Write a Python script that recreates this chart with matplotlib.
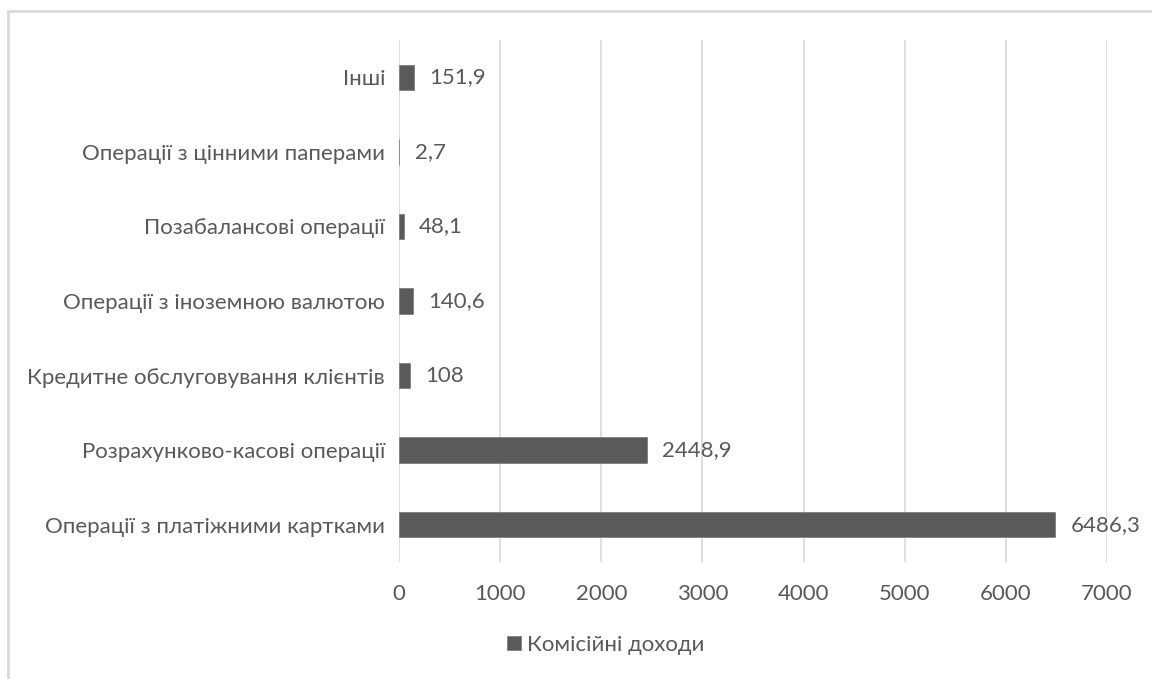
import matplotlib.pyplot as plt
from matplotlib.patches import Rectangle

plt.rcParams['font.family'] = ['Lato', 'DejaVu Sans']

# commission income by category (bottom to top)
categories = ["Операції з платіжними картками",
              "Розрахунково-касові операції",
              "Кредитне обслуговування клієнтів",
              "Операції з іноземною валютою",
              "Позабалансові операції",
              "Операції з цінними паперами",
              "Інші"]
values = [6486.3, 2448.9, 108, 140.6, 48.1, 2.7, 151.9]
labels = ["6486,3", "2448,9", "108", "140,6", "48,1", "2,7", "151,9"]
series_name = "Комісійні доходи"

txt = '#595959'
fs = 16
W, H = 1152, 679
fig = plt.figure(figsize=(W/100, H/100), dpi=100)

# outer chart frame (runs off right and bottom edges)
fig.patches.append(Rectangle((8/W, -0.05), 1.2, 1 - 11/H + 0.05,
                             transform=fig.transFigure, fill=False,
                             edgecolor='#d9d9d9', linewidth=2))

ax = fig.add_axes([399/W, 1 - 562/H, (1107-399)/W, (562-40)/H])
y = range(len(categories))
bars = ax.barh(y, values, height=0.34, color='#5a5a5a', edgecolor='#7f7f7f',
               linewidth=0.6, label=series_name, zorder=3)
for yy, v, s in zip(y, values, labels):
    ax.annotate(s, (v, yy), xytext=(11, 0), textcoords='offset points',
                va='center', ha='left', fontsize=fs, color=txt)

ax.set_xlim(0, 7000)
ax.set_ylim(-0.5, len(categories) - 0.5)
ax.set_xticks(range(0, 7001, 1000))
ax.set_yticks(list(y))
ax.set_yticklabels(categories)
ax.tick_params(axis='both', length=0, labelsize=fs, labelcolor=txt)
ax.tick_params(axis='x', pad=16)
ax.tick_params(axis='y', pad=10)
ax.grid(axis='x', color='#d9d9d9', linewidth=1.2, zorder=0)
for s in ax.spines.values():
    s.set_visible(False)

fig.legend(handles=[bars], labels=[series_name], loc='center',
           bbox_to_anchor=(606/W, 1 - 645/H), frameon=False, fontsize=fs,
           labelcolor=txt, handlelength=0.6, handleheight=0.6, handletextpad=0.3)

fig.savefig('out.png', dpi=100)
